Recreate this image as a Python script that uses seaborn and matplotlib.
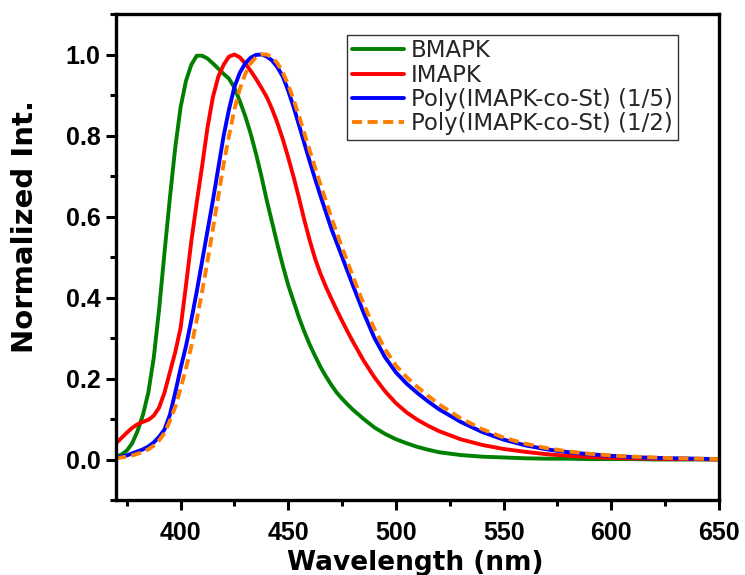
import numpy as np
import pandas as pd
import matplotlib
matplotlib.use("Agg")
import matplotlib.pyplot as plt
from matplotlib.ticker import MultipleLocator
import seaborn as sns

# ---- data ----
wavelength = [370, 372.5, 375, 377.5, 380, 382.5, 385, 387.5, 390, 392.5,
              395, 397.5, 400, 402.5, 405, 407.5, 410, 412.5, 415, 417.5,
              420, 422.5, 425, 427.5, 430, 432.5, 435, 437.5, 440, 442.5,
              445, 447.5, 450, 452.5, 455, 457.5, 460, 462.5, 465, 467.5,
              470, 472.5, 475, 477.5, 480,
              485, 490, 495, 500, 505, 510, 515, 520,
              530, 540, 550, 560, 570, 580, 590, 600, 610, 620, 630, 640, 650]

bmapk = [0.007, 0.012, 0.022, 0.04, 0.07, 0.11, 0.165, 0.25, 0.37, 0.51,
         0.645, 0.77, 0.87, 0.935, 0.975, 0.997, 0.997, 0.99, 0.978, 0.965,
         0.952, 0.94, 0.918, 0.885, 0.848, 0.805, 0.755, 0.70, 0.64, 0.585,
         0.53, 0.478, 0.43, 0.39, 0.35, 0.315, 0.283, 0.255, 0.228, 0.205,
         0.184, 0.165, 0.15, 0.136, 0.123,
         0.10, 0.079, 0.063, 0.05, 0.04, 0.031, 0.024, 0.018,
         0.011, 0.007, 0.005, 0.003, 0.002, 0.002, 0.001, 0.001, 0.001, 0.0, 0.0, 0.0, 0.0]

imapk = [0.04, 0.053, 0.066, 0.078, 0.087, 0.093, 0.098, 0.108, 0.128, 0.165,
         0.215, 0.265, 0.325, 0.43, 0.54, 0.635, 0.725, 0.82, 0.895, 0.945,
         0.975, 0.995, 1.0, 0.993, 0.978, 0.96, 0.94, 0.918, 0.895, 0.865,
         0.83, 0.79, 0.745, 0.697, 0.645, 0.59, 0.54, 0.495, 0.458, 0.426,
         0.397, 0.369, 0.342, 0.316, 0.291,
         0.244, 0.203, 0.168, 0.139, 0.116, 0.098, 0.083, 0.07,
         0.05, 0.036, 0.026, 0.019, 0.013, 0.009, 0.006, 0.004, 0.003, 0.002, 0.001, 0.001, 0.0]

poly_15 = [0.005, 0.007, 0.01, 0.015, 0.02, 0.025, 0.032, 0.042, 0.056, 0.074,
           0.11, 0.165, 0.225, 0.28, 0.345, 0.415, 0.49, 0.565, 0.64, 0.72,
           0.80, 0.865, 0.92, 0.955, 0.978, 0.992, 0.999, 1.0, 0.995, 0.985,
           0.968, 0.945, 0.91, 0.87, 0.825, 0.78, 0.735, 0.692, 0.65, 0.61,
           0.57, 0.535, 0.50, 0.465, 0.43,
           0.362, 0.30, 0.252, 0.215, 0.187, 0.164, 0.143, 0.124,
           0.093, 0.068, 0.049, 0.035, 0.025, 0.018, 0.013, 0.009, 0.006, 0.004, 0.003, 0.002, 0.001]

poly_12 = [0.003, 0.005, 0.007, 0.01, 0.014, 0.019, 0.025, 0.034, 0.047, 0.065,
           0.095, 0.13, 0.175, 0.225, 0.28, 0.345, 0.415, 0.49, 0.57, 0.65,
           0.73, 0.80, 0.865, 0.915, 0.952, 0.978, 0.993, 1.0, 1.0, 0.993,
           0.978, 0.955, 0.925, 0.888, 0.848, 0.805, 0.762, 0.72, 0.678, 0.638,
           0.598, 0.56, 0.523, 0.488, 0.452,
           0.384, 0.322, 0.272, 0.232, 0.203, 0.179, 0.157, 0.136,
           0.102, 0.075, 0.054, 0.039, 0.028, 0.02, 0.014, 0.01, 0.007, 0.005, 0.003, 0.002, 0.001]

labels = ["BMAPK", "IMAPK", "Poly(IMAPK-co-St) (1/5)", "Poly(IMAPK-co-St) (1/2)"]
colors = ["#008000", "#ff0000", "#0000ff", "#ff8000"]

xticks = [400, 450, 500, 550, 600, 650]
yticks = [0.0, 0.2, 0.4, 0.6, 0.8, 1.0]

# ---- style ----
sns.set_theme(style="ticks")
plt.rcParams["font.family"] = ["DejaVu Sans"]

fig = plt.figure(figsize=(7.45, 5.75), dpi=100)
ax = fig.add_axes([116 / 745, 1 - 500 / 575, (719 - 116) / 745, (500 - 14) / 575])

series = [bmapk, imapk, poly_15, poly_12]
for vals, lab, col in zip(series, labels, colors):
    ls = (0, (2.6, 1.4)) if lab.endswith("(1/2)") else "-"
    sns.lineplot(x=wavelength, y=vals, ax=ax, color=col, label=lab,
                 linewidth=2.8, linestyle=ls, sort=False)

ax.set_xlim(370, 650)
ax.set_ylim(-0.1, 1.1)
ax.set_xticks(xticks)
ax.set_yticks(yticks)
ax.xaxis.set_minor_locator(MultipleLocator(25))
ax.yaxis.set_minor_locator(MultipleLocator(0.1))
ax.set_xticklabels([str(t) for t in xticks])
ax.set_yticklabels([f"{t:.1f}" for t in yticks])

for s in ax.spines.values():
    s.set_linewidth(2.4)
    s.set_color("black")
    s.set_visible(True)

ax.tick_params(axis="both", which="major", direction="out", length=7, width=2.2,
               color="black", top=False, right=False)
ax.tick_params(axis="both", which="minor", direction="out", length=4.5, width=2.2,
               color="black", top=False, right=False)
ax.tick_params(axis="x", which="major", pad=8)
ax.tick_params(axis="y", which="major", pad=4)

for lbl in ax.get_xticklabels() + ax.get_yticklabels():
    lbl.set_fontfamily(["Liberation Sans", "DejaVu Sans"])
    lbl.set_fontweight("bold")
    lbl.set_fontsize(18)
    lbl.set_color("black")

ax.set_xlabel("Wavelength (nm)", fontsize=19, fontweight="bold", color="black")
ax.set_ylabel("Normalized Int.", fontsize=21, fontweight="bold", color="black")
ax.xaxis.set_label_coords(0.496, -0.103)
ax.yaxis.set_label_coords(-0.128, 0.562)

leg = ax.legend(loc="upper left", bbox_to_anchor=(0.383, 0.957), frameon=True,
                fancybox=False, framealpha=1, edgecolor="#333333",
                prop={"family": "DejaVu Sans", "size": 16.5},
                handlelength=2.3, handletextpad=0.3, labelspacing=0.05,
                borderpad=0.2, borderaxespad=0)
leg.get_frame().set_linewidth(1.0)

ax.grid(False)
ax.set_facecolor("white")
fig.patch.set_facecolor("white")

fig.savefig("out.png", dpi=100)
